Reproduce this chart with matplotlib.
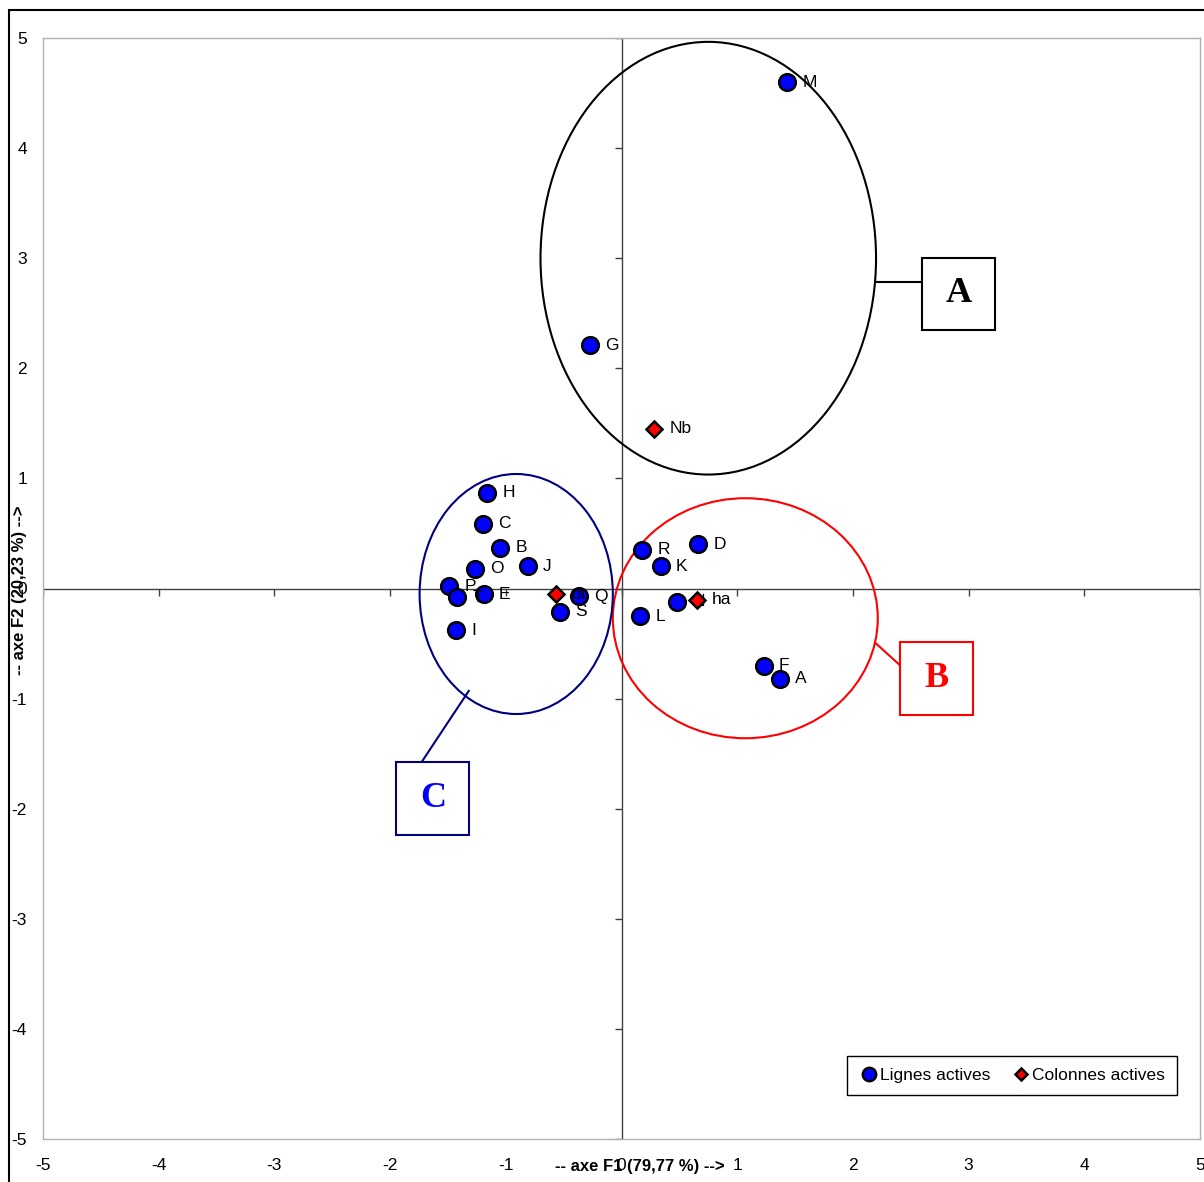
import matplotlib
matplotlib.use('Agg')
from matplotlib import pyplot as plt
from matplotlib.patches import Ellipse, Rectangle
import numpy as np

plt.rcParams['font.family'] = ['Liberation Sans', 'DejaVu Sans']
plt.rcParams['axes.unicode_minus'] = False

# lignes actives (F1, F2)
row_labels = ['M', 'G', 'H', 'C', 'B', 'J', 'O', 'P', 'T', 'E',
              'Q', 'S', 'I', 'R', 'D', 'K', 'L', 'N', 'F', 'A']
row_x = [1.43, -0.27, -1.16, -1.20, -1.05, -0.81, -1.27, -1.49, -1.42, -1.19,
         -0.37, -0.53, -1.43, 0.18, 0.66, 0.34, 0.16, 0.48, 1.23, 1.37]
row_y = [4.60, 2.21, 0.87, 0.59, 0.37, 0.20, 0.18, 0.02, -0.08, -0.05,
         -0.07, -0.21, -0.38, 0.35, 0.40, 0.20, -0.25, -0.12, -0.70, -0.82]

# colonnes actives
col_labels = ['Nb', 'dt', 'ha']
col_x = [0.28, -0.57, 0.65]
col_y = [1.45, -0.05, -0.10]

ticks = np.arange(-5, 6)

fig = plt.figure(figsize=(12.04, 11.82), dpi=100)
ax = fig.add_axes([43/1204, 1 - 1139/1182, 1157/1204, 1101/1182])
ax.set_xlim(-5, 5)
ax.set_ylim(-5, 5)
for s in ax.spines.values():
    s.set_color('#b0b0b0')
    s.set_linewidth(1)
ax.set_xticks(ticks)
ax.set_yticks(ticks)
ax.tick_params(length=0, labelsize=12.5)
ax.tick_params(axis='x', pad=14)
ax.tick_params(axis='y', pad=11.5)

# axes centraux avec graduations
ax.axhline(0, color='#404040', lw=1, zorder=1)
ax.axvline(0, color='#404040', lw=1, zorder=1)
ax.plot(np.zeros(len(ticks)), ticks, ls='none', marker=0, ms=5, color='#404040', mew=1, zorder=1)
ax.plot(ticks, np.zeros(len(ticks)), ls='none', marker=3, ms=5, color='#404040', mew=1, zorder=1)

# ellipses des groupes
ax.add_patch(Ellipse((0.75, 3.0), 2.90, 3.93, fill=False, ec='black', lw=1.5, zorder=2))
ax.add_patch(Ellipse((1.07, -0.27), 2.29, 2.18, fill=False, ec='red', lw=1.5, zorder=2))
ax.add_patch(Ellipse((-0.91, -0.05), 1.67, 2.18, fill=False, ec='#000080', lw=1.5, zorder=2))

# cadres A, B, C
groups = [('A', 2.60, 2.345, 'black', 'black', (2.20, 2.60), (2.78, 2.78)),
          ('B', 2.41, -1.145, 'red', 'red', (2.20, 2.41), (-0.50, -0.70)),
          ('C', -1.945, -2.235, '#000080', '#0000ff', (-1.32, -1.73), (-0.93, -1.58))]
for name, x0, y0, ec, tc, lx, ly in groups:
    ax.plot(lx, ly, color=ec, lw=1.5, zorder=2)
    ax.add_patch(Rectangle((x0, y0), 0.63, 0.655, fill=True, fc='white', ec=ec, lw=1.5, zorder=3))
    ax.text(x0 + 0.315, y0 + 0.33, name, color=tc, fontsize=26, fontweight='bold',
            family='Liberation Serif', ha='center', va='center', zorder=4)

ax.plot(row_x, row_y, ls='none', marker='o', ms=12, mfc='#0000ff', mec='black', mew=1.8,
        zorder=5, label='Lignes actives')
for lab, x, y in zip(row_labels, row_x, row_y):
    ax.annotate(lab, (x, y), xytext=(11, 0), textcoords='offset points',
                ha='left', va='center', fontsize=12.5, zorder=5)

ax.plot(col_x, col_y, ls='none', marker='D', ms=8, mfc='#ff0000', mec='black', mew=1.8,
        zorder=6, label='Colonnes actives')
for lab, x, y in zip(col_labels, col_x, col_y):
    ax.annotate(lab, (x, y), xytext=(11, 0), textcoords='offset points',
                ha='left', va='center', fontsize=12.5, zorder=6)

leg = ax.legend(loc='lower right', bbox_to_anchor=(0.980, 0.040), borderaxespad=0,
                ncol=2, fontsize=12.5, frameon=True, fancybox=False, edgecolor='black',
                framealpha=1, handletextpad=0.0, columnspacing=1.2, borderpad=0.7,
                handlelength=1.2, markerscale=0.8)
leg.get_frame().set_linewidth(1)

fig.text(640/1204, 1 - 1167/1182, '-- axe F1 (79,77 %) -->', ha='center', va='center',
         fontsize=12, fontweight='bold')
fig.text(20/1204, 1 - 590/1182, '-- axe F2 (20,23 %) -->', ha='center', va='center',
         fontsize=12, fontweight='bold', rotation=90)

# cadre extérieur
fig.add_artist(Rectangle((9/1204, -0.1), 1.2, 1 - 10/1182 + 0.1, transform=fig.transFigure,
                         fill=False, ec='black', lw=1.5, clip_on=False))

fig.savefig('out.png', dpi=100, facecolor='white')
